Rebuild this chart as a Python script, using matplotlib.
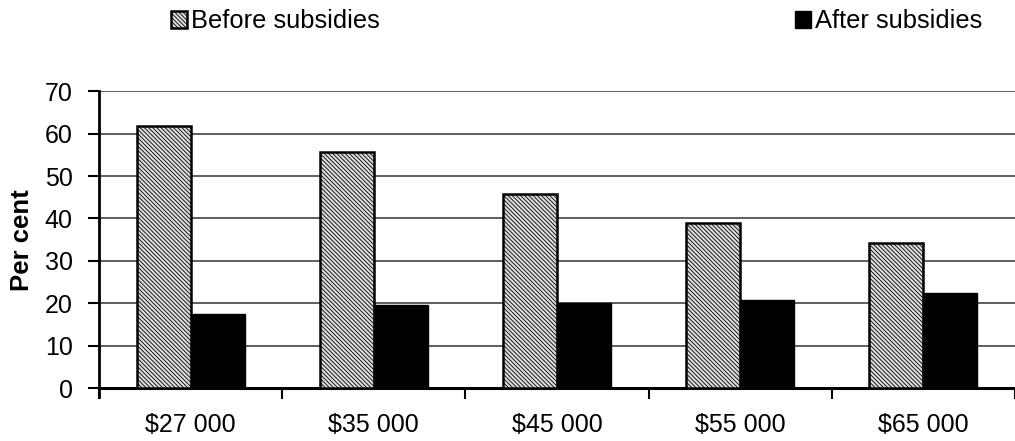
import matplotlib.pyplot as plt
import numpy as np

plt.rcParams['font.family'] = ['Liberation Sans', 'DejaVu Sans']
plt.rcParams['hatch.color'] = '#9a9a9a'
plt.rcParams['hatch.linewidth'] = 0.6

incomes = ['$27 000', '$35 000', '$45 000', '$55 000', '$65 000']
before = [61.8, 55.6, 45.8, 39.0, 34.2]
after = [17.5, 19.5, 20.0, 20.7, 22.5]

fig = plt.figure(figsize=(10.15, 4.41), dpi=100)
ax = fig.add_axes([0.0975, 0.12, 0.9025, 0.673])

x = np.arange(len(incomes))
w = 0.295
b1 = ax.bar(x - w / 2, before, w, facecolor='#dcdcdc', edgecolor='black',
            hatch='\\\\\\\\\\\\\\\\', linewidth=1.8, label='Before subsidies', zorder=3)
b2 = ax.bar(x + w / 2, after, w, facecolor='black', edgecolor='black',
            linewidth=1.0, label='After subsidies', zorder=3)

ax.set_xlim(-0.5, len(incomes) - 0.5)
ax.set_ylim(0, 70)
ax.set_yticks(range(0, 71, 10))
ax.set_xticks(x)
ax.set_xticklabels(incomes)
ax.set_xticks(np.arange(-0.5, len(incomes), 1), minor=True)
ax.tick_params(axis='x', which='major', length=0, labelsize=18, pad=18)
ax.tick_params(axis='x', which='minor', length=8, width=1.5, direction='out')
ax.tick_params(axis='y', labelsize=18, length=8, width=1.5, direction='out', pad=11)
ax.yaxis.grid(True, color='#333333', linewidth=1.1, zorder=0)
ax.set_axisbelow(True)

for side in ['top', 'right']:
    ax.spines[side].set_visible(False)
ax.spines['left'].set_linewidth(2.0)
ax.spines['bottom'].set_linewidth(2.2)
ax.spines['left'].set_bounds(-2, 70)

ax.set_ylabel('Per cent', fontsize=18.5, fontweight='bold')
ax.yaxis.set_label_coords(-0.071, 0.5)

leg_kw = dict(frameon=False, fontsize=18.4, handlelength=0.65, handleheight=0.65,
              handletextpad=0.15, borderaxespad=0, borderpad=0)
fig.legend(handles=[b1], loc='center left', bbox_to_anchor=(0.168, 0.952), **leg_kw)
fig.legend(handles=[b2], loc='center left', bbox_to_anchor=(0.783, 0.952), **leg_kw)

fig.savefig('out.png', dpi=100)
